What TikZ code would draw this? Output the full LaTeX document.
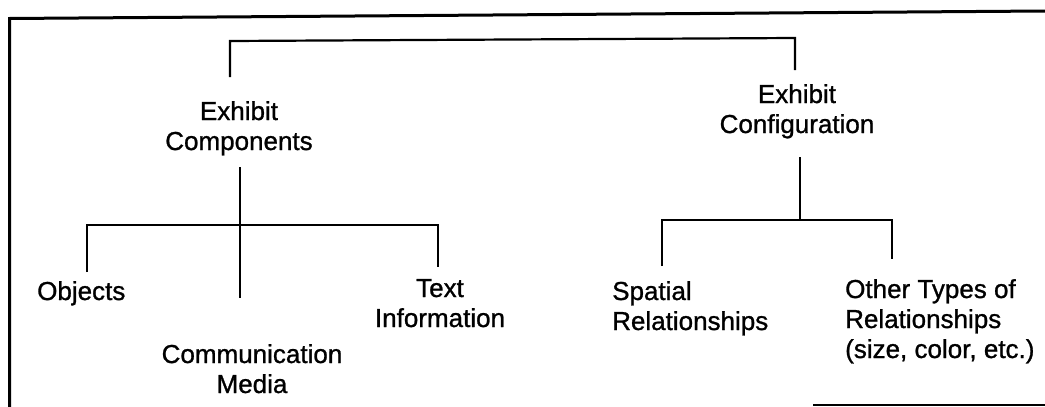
\documentclass[tikz,border=0pt]{standalone}
\usepackage{fontspec}
\setmainfont[FakeBold=1]{Liberation Sans}
\begin{document}
\begin{tikzpicture}[x=1pt,y=-1pt,
  label/.style={font=\fontsize{26}{30}\selectfont, inner sep=0pt, anchor=base},
  labelc/.style={label, align=center},
  labell/.style={label, align=left, anchor=base west},
  link/.style={draw=black, line width=2.2pt},
  frame/.style={draw=black, line width=3pt}]
\useasboundingbox (0,0) rectangle (1045,407);

% outer frame (open on the right and partly at the bottom)
\draw[frame] (1045,11) -- (9.5,18.5) -- (9.5,407);
\draw[line width=2pt] (813,405) -- (1045,405);

% labels (base anchor sits on the last line of each label)
\node[labelc] (comp)    at (239,150) {Exhibit\\Components};
\node[labelc] (config)  at (797,133) {Exhibit\\Configuration};
\node[labell] (obj)     at (37,300)  {Objects};
\node[labelc] (media)   at (252,393) {Communication\\Media};
\node[labelc] (textinf) at (440,327) {Text\\Information};
\node[labell] (spatial) at (612,330) {Spatial\\Relationships};
\node[labell] (other)   at (845,358) {Other Types of\\Relationships\\(size, color, etc.)};

% connector end points
\coordinate (compUp)   at (230,77);
\coordinate (confUp)   at (795,70);
\coordinate (compDown) at (240,167);
\coordinate (objUp)    at (87,272);
\coordinate (mediaUp)  at (240,298);
\coordinate (textUp)   at (438,267);
\coordinate (confDown) at (800,157);
\coordinate (spatUp)   at (662,266);
\coordinate (otherUp)  at (892,259);

% top bracket joining the two main branches
\draw[link] (compUp) -- (230,41) -- (795,38) -- (confUp);

% branch: components
\draw[link] (compDown) -- (mediaUp);
\draw[link] (objUp) |- (textUp |- 0,225) -- (textUp);

% branch: configuration
\draw[link] (confDown) -- (800,220);
\draw[link] (spatUp) |- (otherUp |- 0,220) -- (otherUp);
\end{tikzpicture}
\end{document}
